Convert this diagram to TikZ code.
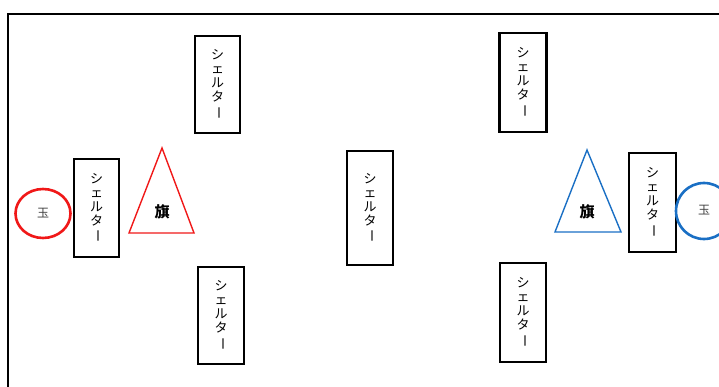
\documentclass[tikz,border=0pt]{standalone}
\usepackage{fontspec}
\newfontfamily\jpfont{Noto Sans CJK JP}
\usetikzlibrary{shapes.geometric}
\definecolor{flagred}{HTML}{F01818}
\definecolor{flagblue}{HTML}{1A6FC4}
\newcommand\sheltertxt{シ\\[-1pt]ェ\\[-1pt]ル\\[-1pt]タ\\[-1pt]\rotatebox[origin=c]{-90}{ー}}
\tikzset{
  shelterbox/.style={draw=black, line width=2.2pt, minimum width=45pt, minimum height=97pt,
    inner sep=0pt, align=center, font=\jpfont\fontsize{13}{15}\selectfont},
  flagtri/.style={line width=1.4pt, line join=miter},
  flaglabel/.style={font=\jpfont\bfseries\fontsize{15}{16}\selectfont, inner sep=0pt},
  kinglabel/.style={font=\jpfont\fontsize{12}{13}\selectfont, text=black!75, inner sep=0pt},
  kingring/.style={ellipse, line width=2.6pt, inner sep=0pt},
}
\begin{document}
\begin{tikzpicture}[x=1pt, y=-1pt]
\useasboundingbox (0,0) rectangle (719,387);
% frame
\draw[line width=2.8pt] (8,390) -- (8,14) -- (725,14);
% shelters
\node[shelterbox] (sA) at (217.5,84.5) {\sheltertxt};
\node[shelterbox, minimum height=98pt] (sB) at (96.5,208) {\sheltertxt};
\node[shelterbox, minimum width=46pt] (sC) at (221,315.5) {\sheltertxt};
\node[shelterbox, minimum width=46pt, minimum height=114pt] (sD) at (370,208) {\sheltertxt};
\node[shelterbox, minimum width=47pt, minimum height=99pt] (sE) at (523,82.5) {\sheltertxt};
\node[shelterbox, minimum width=47pt, minimum height=99pt] (sF) at (652.5,202.5) {\sheltertxt};
\node[shelterbox, minimum width=46pt, minimum height=99pt] (sG) at (523,312.5) {\sheltertxt};
% flags
\draw[flagtri, draw=flagred] (162,148) -- (194,233) -- (129,233) -- cycle;
\node[flaglabel] (flagL) at (162,212) {旗};
\draw[flagtri, draw=flagblue] (587,150) -- (621,232) -- (555,232) -- cycle;
\node[flaglabel] (flagR) at (587,212) {旗};
% kings
\node[kingring, draw=flagred, minimum width=55pt, minimum height=49pt] (kingL) at (43,213.5) {};
\node[kinglabel] (kingLt) at (43,213.5) {玉};
\node[kingring, draw=flagblue, minimum width=56pt, minimum height=56pt] (kingR) at (704,211) {};
\node[kinglabel] (kingRt) at (704,210) {玉};
\end{tikzpicture}
\end{document}
